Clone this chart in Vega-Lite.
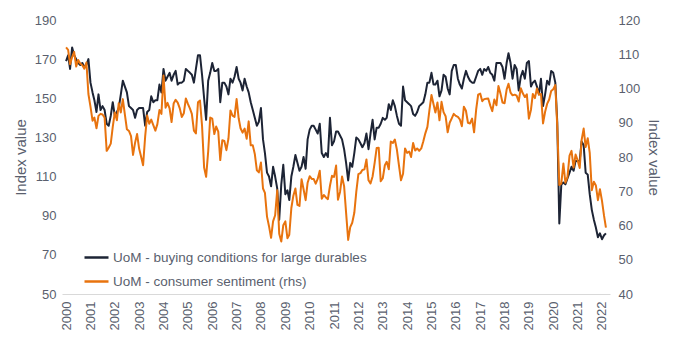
{
"$schema": "https://vega.github.io/schema/vega-lite/v6.json",
"width": 548, "height": 274,
"autosize": {"type": "none"},
"padding": {"left": 62, "top": 20, "right": 70, "bottom": 60},
"background": "white",
"config": {"view": {"stroke": null}, "font": "Liberation Sans"},
"data": {"values": [
{"d":"2000-01","b":169,"c":112.0},{"d":"2000-02","b":172,"c":111.3},{"d":"2000-03","b":165,"c":107.1},{"d":"2000-04","b":176,"c":109.2},{"d":"2000-05","b":172,"c":110.7},{"d":"2000-06","b":170,"c":106.4},{"d":"2000-07","b":168,"c":108.3},{"d":"2000-08","b":167,"c":107.3},{"d":"2000-09","b":168,"c":106.8},{"d":"2000-10","b":166,"c":105.8},{"d":"2000-11","b":167,"c":107.6},{"d":"2000-12","b":170,"c":98.4},
{"d":"2001-01","b":158,"c":94.7},{"d":"2001-02","b":153,"c":90.6},{"d":"2001-03","b":149,"c":91.5},{"d":"2001-04","b":143,"c":88.4},{"d":"2001-05","b":152,"c":92.0},{"d":"2001-06","b":144,"c":92.6},{"d":"2001-07","b":146,"c":92.4},{"d":"2001-08","b":144,"c":91.5},{"d":"2001-09","b":137,"c":81.8},{"d":"2001-10","b":136,"c":82.7},{"d":"2001-11","b":141,"c":83.9},{"d":"2001-12","b":148,"c":88.8},
{"d":"2002-01","b":141,"c":93.0},{"d":"2002-02","b":143,"c":90.7},{"d":"2002-03","b":145,"c":95.7},{"d":"2002-04","b":152,"c":93.0},{"d":"2002-05","b":159,"c":96.9},{"d":"2002-06","b":156,"c":92.4},{"d":"2002-07","b":153,"c":88.1},{"d":"2002-08","b":146,"c":87.6},{"d":"2002-09","b":145,"c":86.1},{"d":"2002-10","b":144,"c":80.6},{"d":"2002-11","b":140,"c":84.2},{"d":"2002-12","b":144,"c":86.7},
{"d":"2003-01","b":145,"c":82.4},{"d":"2003-02","b":145,"c":79.9},{"d":"2003-03","b":145,"c":77.6},{"d":"2003-04","b":136,"c":86.0},{"d":"2003-05","b":143,"c":92.1},{"d":"2003-06","b":144,"c":89.7},{"d":"2003-07","b":151,"c":90.9},{"d":"2003-08","b":148,"c":89.3},{"d":"2003-09","b":149,"c":87.7},{"d":"2003-10","b":149,"c":89.6},{"d":"2003-11","b":157,"c":93.7},{"d":"2003-12","b":153,"c":92.6},
{"d":"2004-01","b":165,"c":103.8},{"d":"2004-02","b":159,"c":94.4},{"d":"2004-03","b":161,"c":95.8},{"d":"2004-04","b":163,"c":94.2},{"d":"2004-05","b":159,"c":90.2},{"d":"2004-06","b":162,"c":95.6},{"d":"2004-07","b":164,"c":96.7},{"d":"2004-08","b":157,"c":95.9},{"d":"2004-09","b":158,"c":94.2},{"d":"2004-10","b":158,"c":91.7},{"d":"2004-11","b":159,"c":92.8},{"d":"2004-12","b":165,"c":97.1},
{"d":"2005-01","b":164,"c":95.5},{"d":"2005-02","b":163,"c":94.1},{"d":"2005-03","b":162,"c":92.6},{"d":"2005-04","b":158,"c":87.7},{"d":"2005-05","b":165,"c":86.9},{"d":"2005-06","b":172,"c":96.0},{"d":"2005-07","b":172,"c":96.5},{"d":"2005-08","b":162,"c":89.1},{"d":"2005-09","b":150,"c":76.9},{"d":"2005-10","b":139,"c":74.2},{"d":"2005-11","b":159,"c":81.6},{"d":"2005-12","b":163,"c":91.5},
{"d":"2006-01","b":168,"c":91.2},{"d":"2006-02","b":164,"c":86.7},{"d":"2006-03","b":164,"c":88.9},{"d":"2006-04","b":165,"c":87.4},{"d":"2006-05","b":148,"c":79.1},{"d":"2006-06","b":158,"c":84.9},{"d":"2006-07","b":158,"c":84.7},{"d":"2006-08","b":156,"c":82.0},{"d":"2006-09","b":152,"c":85.4},{"d":"2006-10","b":160,"c":93.6},{"d":"2006-11","b":158,"c":92.1},{"d":"2006-12","b":161,"c":91.7},
{"d":"2007-01","b":166,"c":96.9},{"d":"2007-02","b":160,"c":91.3},{"d":"2007-03","b":158,"c":88.4},{"d":"2007-04","b":154,"c":87.1},{"d":"2007-05","b":160,"c":88.3},{"d":"2007-06","b":156,"c":85.3},{"d":"2007-07","b":153,"c":90.4},{"d":"2007-08","b":148,"c":83.4},{"d":"2007-09","b":144,"c":83.4},{"d":"2007-10","b":140,"c":80.9},{"d":"2007-11","b":136,"c":76.1},{"d":"2007-12","b":138,"c":75.5},
{"d":"2008-01","b":145,"c":78.4},{"d":"2008-02","b":129,"c":70.8},{"d":"2008-03","b":122,"c":69.5},{"d":"2008-04","b":112,"c":62.6},{"d":"2008-05","b":110,"c":59.8},{"d":"2008-06","b":105,"c":56.4},{"d":"2008-07","b":115,"c":61.2},{"d":"2008-08","b":110,"c":63.0},{"d":"2008-09","b":104,"c":70.3},{"d":"2008-10","b":88,"c":57.6},{"d":"2008-11","b":106,"c":55.3},{"d":"2008-12","b":116,"c":60.1},
{"d":"2009-01","b":101,"c":61.2},{"d":"2009-02","b":103,"c":56.3},{"d":"2009-03","b":98,"c":57.3},{"d":"2009-04","b":110,"c":65.1},{"d":"2009-05","b":115,"c":68.7},{"d":"2009-06","b":121,"c":70.8},{"d":"2009-07","b":117,"c":66.0},{"d":"2009-08","b":113,"c":65.7},{"d":"2009-09","b":115,"c":73.5},{"d":"2009-10","b":120,"c":70.6},{"d":"2009-11","b":114,"c":67.4},{"d":"2009-12","b":129,"c":72.5},
{"d":"2010-01","b":134,"c":74.4},{"d":"2010-02","b":136,"c":73.6},{"d":"2010-03","b":136,"c":73.6},{"d":"2010-04","b":134,"c":72.2},{"d":"2010-05","b":132,"c":73.6},{"d":"2010-06","b":137,"c":76.0},{"d":"2010-07","b":122,"c":67.8},{"d":"2010-08","b":120,"c":68.9},{"d":"2010-09","b":122,"c":68.2},{"d":"2010-10","b":120,"c":67.7},{"d":"2010-11","b":140,"c":71.6},{"d":"2010-12","b":126,"c":74.5},
{"d":"2011-01","b":128,"c":74.2},{"d":"2011-02","b":133,"c":77.5},{"d":"2011-03","b":133,"c":67.5},{"d":"2011-04","b":131,"c":69.8},{"d":"2011-05","b":129,"c":74.3},{"d":"2011-06","b":124,"c":71.5},{"d":"2011-07","b":117,"c":63.7},{"d":"2011-08","b":108,"c":55.8},{"d":"2011-09","b":117,"c":59.5},{"d":"2011-10","b":115,"c":60.8},{"d":"2011-11","b":122,"c":63.7},{"d":"2011-12","b":130,"c":69.9},
{"d":"2012-01","b":129,"c":75.0},{"d":"2012-02","b":127,"c":75.3},{"d":"2012-03","b":125,"c":76.2},{"d":"2012-04","b":127,"c":76.4},{"d":"2012-05","b":132,"c":79.3},{"d":"2012-06","b":124,"c":73.2},{"d":"2012-07","b":132,"c":72.3},{"d":"2012-08","b":139,"c":74.3},{"d":"2012-09","b":129,"c":78.3},{"d":"2012-10","b":135,"c":82.6},{"d":"2012-11","b":135,"c":82.7},{"d":"2012-12","b":137,"c":72.9},
{"d":"2013-01","b":140,"c":73.8},{"d":"2013-02","b":139,"c":77.6},{"d":"2013-03","b":140,"c":78.6},{"d":"2013-04","b":147,"c":76.4},{"d":"2013-05","b":144,"c":84.5},{"d":"2013-06","b":149,"c":84.1},{"d":"2013-07","b":146,"c":85.1},{"d":"2013-08","b":141,"c":82.1},{"d":"2013-09","b":137,"c":77.5},{"d":"2013-10","b":136,"c":73.2},{"d":"2013-11","b":156,"c":75.1},{"d":"2013-12","b":149,"c":82.5},
{"d":"2014-01","b":148,"c":81.2},{"d":"2014-02","b":147,"c":81.6},{"d":"2014-03","b":146,"c":80.0},{"d":"2014-04","b":142,"c":84.1},{"d":"2014-05","b":141,"c":81.9},{"d":"2014-06","b":143,"c":82.5},{"d":"2014-07","b":146,"c":81.8},{"d":"2014-08","b":147,"c":82.5},{"d":"2014-09","b":148,"c":84.6},{"d":"2014-10","b":152,"c":86.9},{"d":"2014-11","b":158,"c":88.8},{"d":"2014-12","b":158,"c":93.6},
{"d":"2015-01","b":163,"c":98.1},{"d":"2015-02","b":157,"c":95.4},{"d":"2015-03","b":157,"c":93.0},{"d":"2015-04","b":159,"c":95.9},{"d":"2015-05","b":151,"c":90.7},{"d":"2015-06","b":154,"c":96.1},{"d":"2015-07","b":162,"c":93.1},{"d":"2015-08","b":161,"c":91.9},{"d":"2015-09","b":155,"c":87.2},{"d":"2015-10","b":152,"c":90.0},{"d":"2015-11","b":164,"c":91.3},{"d":"2015-12","b":167,"c":92.6},
{"d":"2016-01","b":167,"c":92.0},{"d":"2016-02","b":160,"c":91.7},{"d":"2016-03","b":157,"c":91.0},{"d":"2016-04","b":155,"c":89.0},{"d":"2016-05","b":160,"c":94.7},{"d":"2016-06","b":164,"c":93.5},{"d":"2016-07","b":161,"c":90.0},{"d":"2016-08","b":159,"c":89.8},{"d":"2016-09","b":158,"c":91.2},{"d":"2016-10","b":158,"c":87.2},{"d":"2016-11","b":161,"c":93.8},{"d":"2016-12","b":164,"c":98.2},
{"d":"2017-01","b":165,"c":98.5},{"d":"2017-02","b":162,"c":96.3},{"d":"2017-03","b":165,"c":96.9},{"d":"2017-04","b":164,"c":97.0},{"d":"2017-05","b":166,"c":97.1},{"d":"2017-06","b":163,"c":95.0},{"d":"2017-07","b":162,"c":93.4},{"d":"2017-08","b":159,"c":96.8},{"d":"2017-09","b":168,"c":95.1},{"d":"2017-10","b":168,"c":100.7},{"d":"2017-11","b":168,"c":98.5},{"d":"2017-12","b":166,"c":95.9},
{"d":"2018-01","b":160,"c":95.7},{"d":"2018-02","b":168,"c":99.7},{"d":"2018-03","b":173,"c":101.4},{"d":"2018-04","b":168,"c":98.8},{"d":"2018-05","b":160,"c":98.0},{"d":"2018-06","b":167,"c":98.2},{"d":"2018-07","b":165,"c":97.9},{"d":"2018-08","b":154,"c":96.2},{"d":"2018-09","b":161,"c":100.1},{"d":"2018-10","b":164,"c":98.6},{"d":"2018-11","b":160,"c":97.5},{"d":"2018-12","b":168,"c":98.3},
{"d":"2019-01","b":169,"c":91.2},{"d":"2019-02","b":156,"c":93.8},{"d":"2019-03","b":158,"c":98.4},{"d":"2019-04","b":159,"c":97.2},{"d":"2019-05","b":156,"c":100.0},{"d":"2019-06","b":152,"c":98.2},{"d":"2019-07","b":160,"c":98.4},{"d":"2019-08","b":146,"c":89.8},{"d":"2019-09","b":152,"c":93.2},{"d":"2019-10","b":159,"c":95.5},{"d":"2019-11","b":157,"c":96.8},{"d":"2019-12","b":164,"c":99.3},
{"d":"2020-01","b":163,"c":99.8},{"d":"2020-02","b":158,"c":101.0},{"d":"2020-03","b":138,"c":89.1},{"d":"2020-04","b":86,"c":71.8},{"d":"2020-05","b":106,"c":72.3},{"d":"2020-06","b":107,"c":78.1},{"d":"2020-07","b":106,"c":72.5},{"d":"2020-08","b":109,"c":74.1},{"d":"2020-09","b":112,"c":80.4},{"d":"2020-10","b":115,"c":81.8},{"d":"2020-11","b":113,"c":76.9},{"d":"2020-12","b":118,"c":80.7},
{"d":"2021-01","b":118,"c":79.0},{"d":"2021-02","b":118,"c":76.8},{"d":"2021-03","b":128,"c":84.9},{"d":"2021-04","b":126,"c":88.3},{"d":"2021-05","b":112,"c":82.9},{"d":"2021-06","b":111,"c":85.5},{"d":"2021-07","b":101,"c":81.2},{"d":"2021-08","b":93,"c":70.3},{"d":"2021-09","b":88,"c":72.8},{"d":"2021-10","b":84,"c":71.7},{"d":"2021-11","b":79,"c":67.4},{"d":"2021-12","b":81,"c":70.6},
{"d":"2022-01","b":78,"c":67.2},{"d":"2022-02","b":80,"c":62.8},{"d":"2022-03","b":81,"c":59.4}
]},
"encoding": {
  "x": {"field": "d", "type": "temporal",
    "scale": {"type": "utc", "domain": [{"year": 1999, "month": "nov", "date": 1, "utc": true}, {"year": 2022, "month": "may", "date": 1, "utc": true}]},
    "axis": {"title": null, "format": "%Y", "tickCount": {"interval": "year", "step": 1}, "labelAngle": 270, "labelAlign": "right", "labelBaseline": "middle", "labelPadding": 7, "labelFontSize": 13, "labelColor": "#5a5f6e", "labelFont": "Liberation Sans", "labelOverlap": false, "labelFlush": false, "ticks": false, "grid": false, "domainColor": "#d9d9d9", "domainWidth": 1}}
},
"layer": [
  {"mark": {"type": "line", "strokeWidth": 2, "strokeJoin": "round"},
   "encoding": {
     "y": {"field": "b", "type": "quantitative", "scale": {"domain": [50, 190], "nice": false, "zero": false},
       "axis": {"orient": "left", "title": "Index value", "values": [50, 70, 90, 110, 130, 150, 170, 190], "labelFontSize": 13, "labelColor": "#5a5f6e", "labelFont": "Liberation Sans", "labelPadding": 6, "titleFontSize": 15, "titleFontWeight": "normal", "titleColor": "#5a5f6e", "titleFont": "Liberation Sans", "titlePadding": 6, "ticks": false, "domain": false, "grid": false}},
     "color": {"datum": "UoM - buying conditions for large durables", "type": "nominal",
       "scale": {"domain": ["UoM - buying conditions for large durables", "UoM - consumer sentiment (rhs)"], "range": ["#1d2435", "#e8730e"]},
       "legend": {"orient": "none", "legendX": 21, "legendY": 224, "title": null, "symbolType": "stroke", "symbolSize": 576, "symbolStrokeWidth": 2.5, "labelFontSize": 13.5, "labelColor": "#5a5f6e", "labelFont": "Liberation Sans", "labelLimit": 500, "rowPadding": 4, "labelOffset": 3, "direction": "vertical"}}
   }},
  {"mark": {"type": "line", "strokeWidth": 2, "strokeJoin": "round"},
   "encoding": {
     "y": {"field": "c", "type": "quantitative", "scale": {"domain": [40, 120], "nice": false, "zero": false},
       "axis": {"orient": "right", "title": "Index value", "values": [40, 50, 60, 70, 80, 90, 100, 110, 120], "labelFontSize": 13, "labelColor": "#5a5f6e", "labelFont": "Liberation Sans", "labelPadding": 8, "titleFontSize": 15, "titleFontWeight": "normal", "titleColor": "#5a5f6e", "titleFont": "Liberation Sans", "titlePadding": 6, "ticks": false, "domain": false, "grid": false}},
     "color": {"datum": "UoM - consumer sentiment (rhs)", "type": "nominal"}
   }}
],
"resolve": {"scale": {"y": "independent"}}
}
